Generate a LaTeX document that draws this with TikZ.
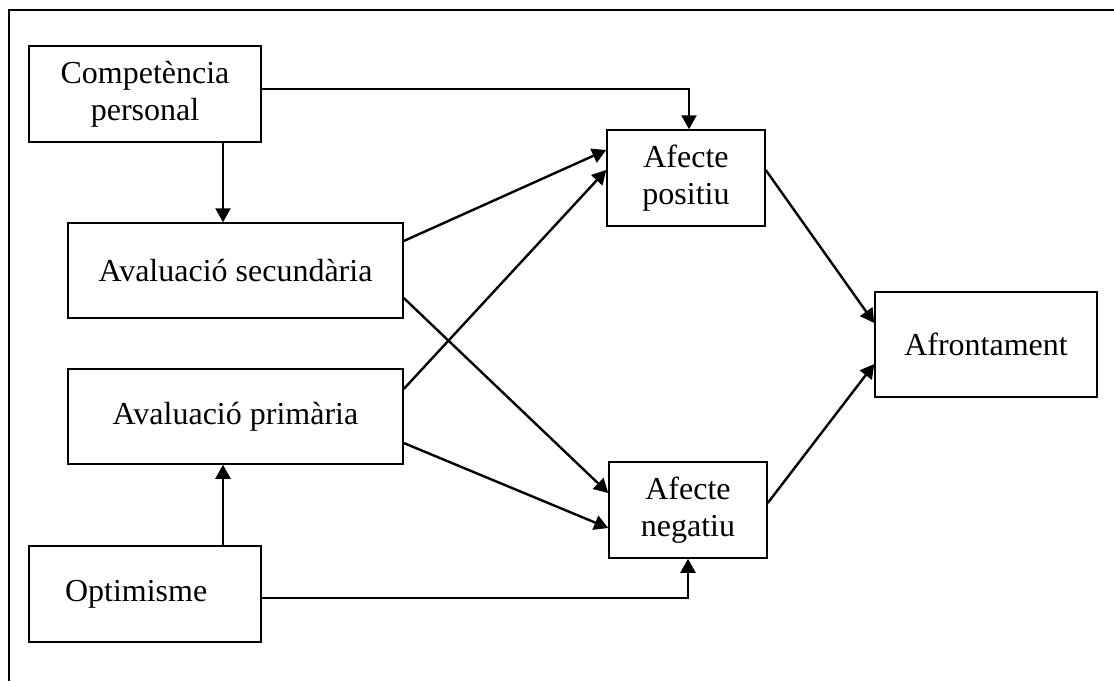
\documentclass[tikz,border=0pt]{standalone}
\usepackage{fontspec}
\setmainfont{Liberation Serif}
\usetikzlibrary{arrows.meta}
\begin{document}
\begin{tikzpicture}[x=0.5pt,y=-0.5pt,
        box/.style={draw,line width=0.75pt,align=center,inner sep=0pt,
            font=\fontsize{16}{18.5}\selectfont},
        arr/.style={line width=1.2pt,-{Triangle[length=7pt,width=7.5pt]}}]
        \useasboundingbox (0,0) rectangle (1114,681);
        %% frame
        \draw[line width=1.3pt] (1114,10) -- (9,10) -- (9,681);
        %% left column
        \node[box,line width=1.2pt,minimum width=116pt,minimum height=48pt] (comp) at (145,94) {Competència\\personal};
        \node[box,minimum width=167.5pt,minimum height=47.5pt] (sec) at (235.5,270.5) {Avaluació secundària};
        \node[box,minimum width=167.5pt,minimum height=47.5pt] (prim) at (235.5,416.5) {Avaluació primària};
        \node[box,align=left,text width=80pt,inner xsep=18pt,minimum height=48pt] (opt) at (145,594) {Optimisme};
        %% middle and right
        \node[box,minimum width=79pt,minimum height=48pt] (pos) at (686,178) {Afecte\\positiu};
        \node[box,minimum width=79pt,minimum height=48pt] (neg) at (688,510) {Afecte\\negatiu};
        \node[box,minimum width=111pt,minimum height=52.5pt] (afr) at (986,344.5) {Afrontament};
        %% helper points
        \coordinate (cv) at (223,0);
        \coordinate (ph) at (689,89);
        \coordinate (nh) at (688,598);
        %% connectors
        \draw[arr] (comp.south -| cv) -- (sec.north -| cv);
        \draw[arr] (opt.north -| cv) -- (prim.south -| cv);
        \draw[arr] (comp.east |- ph) -| (ph |- pos.north);
        \draw[arr] (opt.east |- nh) -| (nh |- neg.south);
        \draw[arr] ([yshift=14.75pt]sec.east) -- ([yshift=14pt]pos.west);
        \draw[arr] ([yshift=13.75pt]prim.east) -- ([yshift=4pt]pos.west);
        \draw[arr] ([yshift=-13.75pt]sec.east) -- ([yshift=8.5pt]neg.west);
        \draw[arr] ([yshift=-13.25pt]prim.east) -- ([yshift=-9pt]neg.west);
        \draw[arr] ([yshift=4pt]pos.east) -- ([yshift=10.75pt]afr.west);
        \draw[arr] ([yshift=3.5pt]neg.east) -- ([yshift=-9.75pt]afr.west);
    \end{tikzpicture}
\end{document}
